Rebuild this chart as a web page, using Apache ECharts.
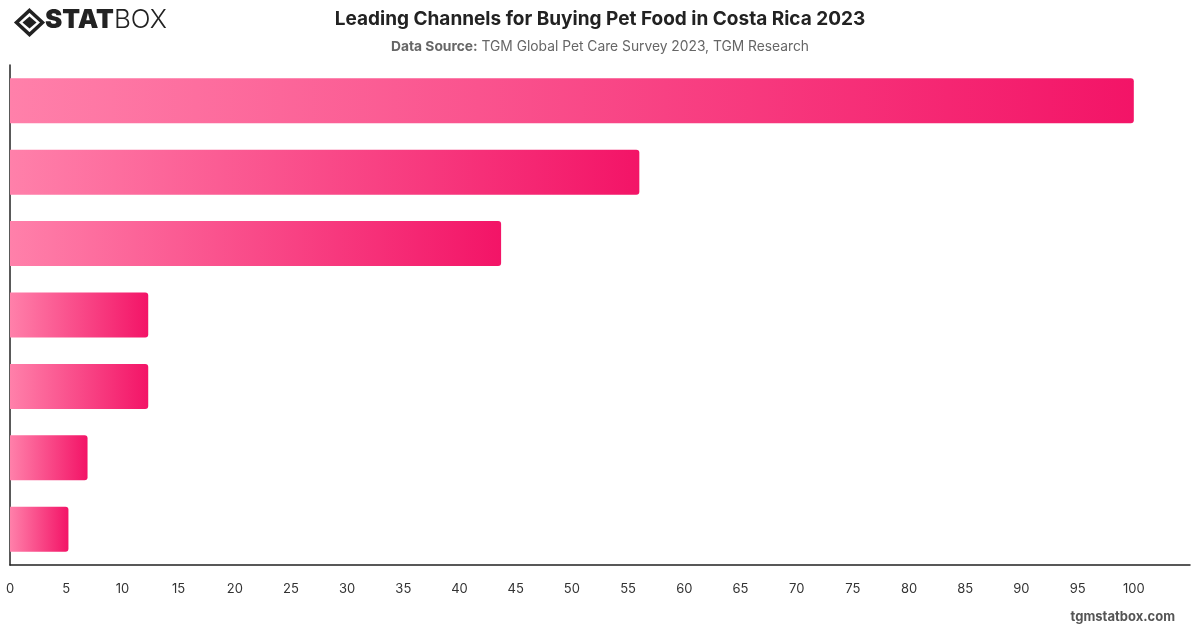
<!DOCTYPE html>
<html>
<head>
<meta charset="utf-8">
<script src="https://cdn.jsdelivr.net/npm/echarts@6/dist/echarts.min.js"></script>
<style>
  html, body { margin: 0; padding: 0; background: #fff; }
  #chart { width: 1200px; height: 628px; }
</style>
</head>
<body>
<div id="chart"></div>
<script>
// channels, top to bottom (no labels shown in the chart)
const categories = ['Channel 1', 'Channel 2', 'Channel 3', 'Channel 4', 'Channel 5', 'Channel 6', 'Channel 7'];
const values = [100, 56, 43.7, 12.3, 12.3, 6.9, 5.2];

const chart = echarts.init(document.getElementById('chart'));

const font = 'Inter, "Noto Sans", sans-serif';

chart.setOption({
  animation: false,
  title: [
    {
      text: 'Leading Channels for Buying Pet Food in Costa Rica 2023',
      left: 'center',
      top: 5,
      textStyle: { fontFamily: font, fontSize: 19, fontWeight: 'bold', color: '#222' }
    },
    {
      text: '{b|Data Source:} TGM Global Pet Care Survey 2023, TGM Research',
      left: 'center',
      top: 35,
      textStyle: {
        fontFamily: font, fontSize: 13.8, fontWeight: 'normal', color: '#666',
        rich: { b: { fontFamily: font, fontSize: 13.8, fontWeight: 'bold', color: '#666' } }
      }
    },
    {
      text: 'tgmstatbox.com',
      right: 20,
      top: 606,
      textStyle: { fontFamily: font, fontSize: 13, fontWeight: 'bold', color: '#555' }
    }
  ],
  graphic: [
    {
      type: 'group', left: 14, top: 8,
      children: [
        { type: 'polygon', shape: { points: [[13, 0], [26, 12], [13, 24], [0, 12]] },
          style: { fill: 'none', stroke: '#222', lineWidth: 3.5 } },
        { type: 'polygon', shape: { points: [[13, 6], [20, 12], [13, 18], [6, 12]] },
          style: { fill: '#222' } }
      ]
    },
    {
      type: 'text', left: 45, top: 7,
      style: {
        text: '{a|STAT}{b|BOX}',
        rich: {
          a: { fontFamily: 'Inter, sans-serif', fontSize: 26, fontWeight: 900, fill: '#222' },
          b: { fontFamily: 'Inter, sans-serif', fontSize: 26, fontWeight: 300, fill: '#222' }
        }
      }
    }
  ],
  grid: { left: 10, right: 10, top: 65, bottom: 63, containLabel: false },
  xAxis: {
    type: 'value',
    min: 0,
    max: 105,
    interval: 5,
    axisLine: { show: true, lineStyle: { color: '#222', width: 1.5 } },
    axisTick: { show: false },
    splitLine: { show: false },
    axisLabel: {
      showMaxLabel: false,
      margin: 18,
      fontFamily: font, fontSize: 13, color: '#333'
    }
  },
  yAxis: {
    type: 'category',
    inverse: true,
    data: categories,
    axisLine: { show: true, lineStyle: { color: '#222', width: 1.5 } },
    axisTick: { show: false },
    axisLabel: { show: false }
  },
  series: [{
    type: 'bar',
    data: values,
    barCategoryGap: '37%',
    itemStyle: {
      borderRadius: [0, 3, 3, 0],
      color: new echarts.graphic.LinearGradient(0, 0, 1, 0, [
        { offset: 0, color: '#ff80aa' },
        { offset: 1, color: '#f31467' }
      ])
    }
  }]
});
</script>
</body>
</html>
